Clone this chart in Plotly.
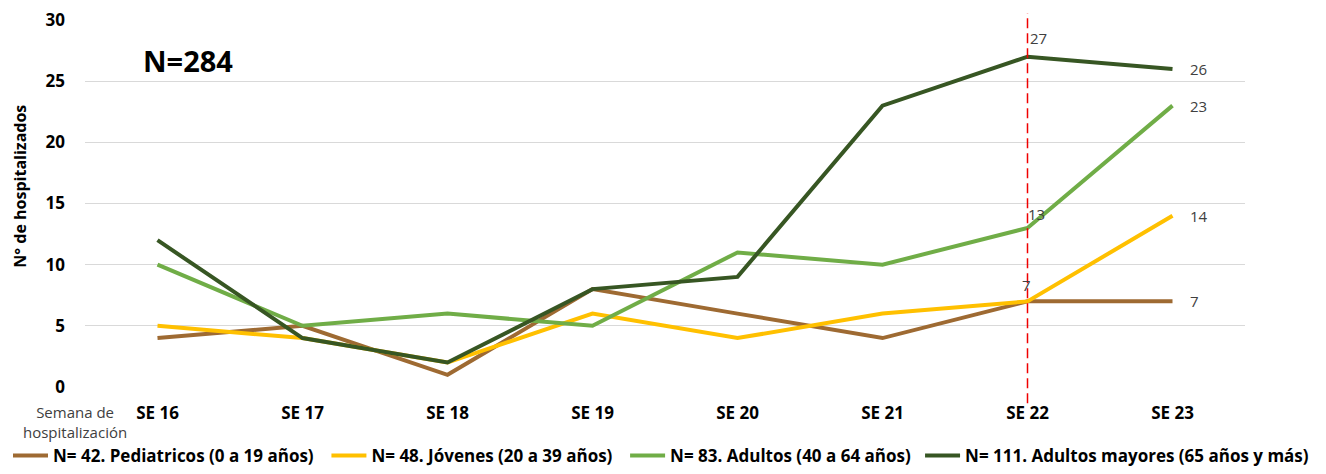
import plotly.graph_objects as go

semanas = ["SE 16", "SE 17", "SE 18", "SE 19", "SE 20", "SE 21", "SE 22", "SE 23"]
pediatricos = [4, 5, 1, 8, 6, 4, 7, 7]
jovenes = [5, 4, 2, 6, 4, 6, 7, 14]
adultos = [10, 5, 6, 5, 11, 10, 13, 23]
mayores = [12, 4, 2, 8, 9, 23, 27, 26]

nombres = [
    "N= 42. Pediatricos (0 a 19 años)",
    "N= 48. Jóvenes (20 a 39 años)",
    "N= 83. Adultos (40 a 64 años)",
    "N= 111. Adultos mayores (65 años y más)",
]
colores = ["#9E6A32", "#FFC000", "#70AD47", "#375623"]
series = [pediatricos, jovenes, adultos, mayores]

FONT = "Open Sans"
GRIS = "#404040"

# una leyenda por serie para poder repartirlas en una sola fila
leyendas = ["legend", "legend2", "legend3", "legend4"]
leyenda_x = [0.0, 0.2416, 0.4682, 0.692]

fig = go.Figure()
for nombre, color, vals, ley in zip(nombres, colores, series, leyendas):
    fig.add_trace(go.Scatter(x=semanas, y=vals, mode="lines", name=nombre, legend=ley,
                             line=dict(color=color, width=4)))

# linea roja punteada en SE 22
fig.add_shape(type="line", xref="x", yref="paper", x0="SE 22", x1="SE 22", y0=-0.044, y1=1.019,
              line=dict(color="#F00000", width=1.5, dash="10px,5px"))

# etiquetas de valores
for vals in series:
    fig.add_annotation(x="SE 23", y=vals[-1], text=str(vals[-1]), showarrow=False,
                       xanchor="left", xshift=15, font=dict(size=15, color=GRIS, family=FONT))
fig.add_annotation(x="SE 22", y=mayores[6], text=str(mayores[6]), showarrow=False,
                   xanchor="left", yanchor="middle", yshift=19, xshift=0,
                   font=dict(size=15, color=GRIS, family=FONT))
fig.add_annotation(x="SE 22", y=adultos[6], text=str(adultos[6]), showarrow=False,
                   xanchor="left", yanchor="middle", yshift=14, xshift=-2,
                   font=dict(size=15, color=GRIS, family=FONT))
fig.add_annotation(x="SE 22", y=pediatricos[6], text=str(pediatricos[6]), showarrow=False,
                   xanchor="center", yanchor="middle", yshift=16, xshift=-1,
                   font=dict(size=15, color=GRIS, family=FONT))

fig.add_annotation(x=0.048, y=0.89, xref="paper", yref="paper", text="<b>N=284</b>", showarrow=False,
                   xanchor="left", yanchor="middle", font=dict(size=29, color="black", family=FONT))
fig.add_annotation(x=-0.009, y=-0.035, xref="paper", yref="paper", text="Semana de<br>hospitalización",
                   showarrow=False, xanchor="center", yanchor="top", align="center",
                   font=dict(size=15, color=GRIS, family=FONT))
fig.add_annotation(x=-0.056, y=0.546, xref="paper", yref="paper", text="<b>N° de hospitalizados</b>",
                   showarrow=False, textangle=-90, xanchor="center", yanchor="middle",
                   font=dict(size=16, color="black", family=FONT))

ley_cfg = {}
for ley, lx in zip(leyendas, leyenda_x):
    ley_cfg[ley] = dict(orientation="h", xref="container", yref="container", x=lx, xanchor="left",
                        y=0.0, yanchor="bottom", itemwidth=35,
                        font=dict(size=17, family=FONT, weight="bold"))

# la pagina tiene 8px de margen en el body
fig.update_layout(
    width=1318, height=466,
    margin=dict(l=77, r=81, t=12, b=87),
    plot_bgcolor="white", paper_bgcolor="white",
    font=dict(family=FONT, color="black"),
    xaxis=dict(showgrid=False, showline=False, ticks="", automargin=False, ticklabelstandoff=14,
               tickfont=dict(size=17, family=FONT, weight="bold"), ticklabeloverflow="allow",
               range=[-0.5, 7.5]),
    yaxis=dict(range=[0, 30], dtick=5, gridcolor="#D9D9D9", gridwidth=1, zeroline=False,
               automargin=False, ticklabelstandoff=19, ticklabeloverflow="allow",
               tickfont=dict(size=17, family=FONT, weight="bold")),
    showlegend=True,
    **ley_cfg,
)

fig.write_html("out.html")
